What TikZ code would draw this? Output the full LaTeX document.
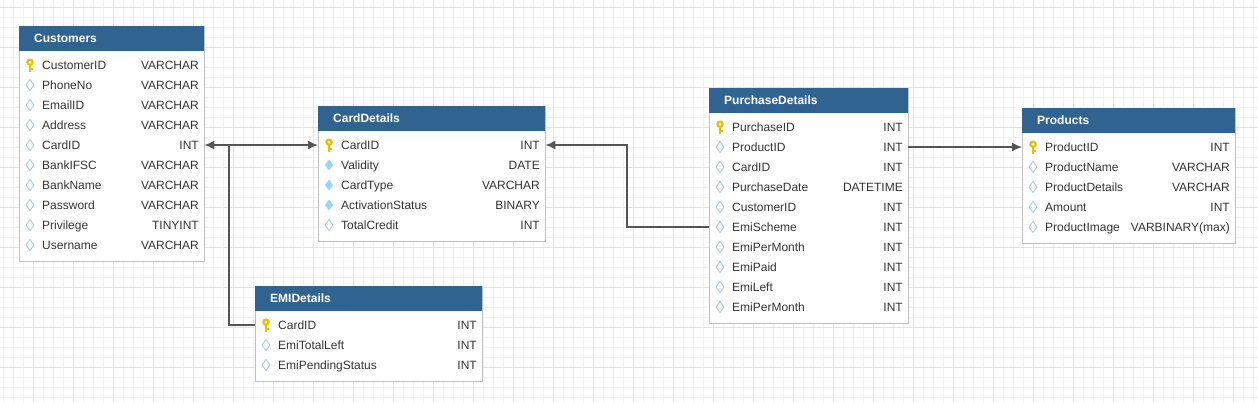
\documentclass[tikz,border=0pt]{standalone}
\usepackage{fontspec}
\setmainfont{Liberation Sans}
\usetikzlibrary{shadows,arrows.meta}
\tikzset{>={Latex[length=10pt,width=9pt]}}
\definecolor{headblue}{RGB}{49,99,145}
\definecolor{keygold}{RGB}{240,190,0}
\definecolor{diaedge}{RGB}{170,200,235}
\definecolor{diafill}{RGB}{150,215,245}
\definecolor{linkgray}{RGB}{85,85,85}
\definecolor{gridminor}{RGB}{242,242,242}
\definecolor{gridmajor}{RGB}{226,226,226}
\tikzset{
  tbox/.style={draw=black!25, fill=white, anchor=north west, inner sep=0,
    drop shadow={shadow xshift=1pt, shadow yshift=-1pt, opacity=.3}},
  thead/.style={fill=headblue, anchor=north west, minimum height=25pt,
    inner xsep=15pt, inner ysep=0, text=white, align=left,
    font=\fontsize{12}{14}\selectfont\bfseries},
  field/.style={anchor=west, inner sep=0, text=black!80, text height=11.2pt,
    text depth=2.6pt, font=\fontsize{12}{14}\selectfont},
  ftype/.style={anchor=east, inner sep=0, text=black!80, text height=11.2pt,
    text depth=2.6pt, font=\fontsize{12}{14}\selectfont},
  link/.style={draw=linkgray, line width=1.6pt},
  pk/.pic={
    \draw[keygold, line width=2.2pt] (0,-2.8) circle (2.6);
    \draw[keygold, line width=2.4pt] (0,-0.5) -- (0,6.5) (0,4) -- (2.6,4);
  },
  col/.pic={\draw[diaedge, line width=.8pt] (0,-5.5) -- (4,0) -- (0,5.5) -- (-4,0) -- cycle;},
  idx/.pic={\fill[diafill] (0,-5.5) -- (4,0) -- (0,5.5) -- (-4,0) -- cycle;}
}

\begin{document}
\begin{tikzpicture}[x=1pt,y=-1pt]
  \useasboundingbox (0,0) rectangle (1258,402);
  % background grid
  \foreach \x in {3,13,...,1253} \draw[gridminor, line width=.8pt] (\x,0) -- (\x,402);
  \foreach \y in {7,17,...,397} \draw[gridminor, line width=.8pt] (0,\y) -- (1258,\y);
  \foreach \x in {33,73,...,1233} \draw[gridmajor, line width=.8pt] (\x,0) -- (\x,402);
  \foreach \y in {7,47,...,367} \draw[gridmajor, line width=.8pt] (0,\y) -- (1258,\y);

  % Customers
  \node[tbox, minimum width=185pt, minimum height=235pt] (cust) at (19,26) {};
  \node[thead, text width=155pt] (custh) at (19,26) {Customers};
  \foreach \i/\f/\t/\k in {0/CustomerID/VARCHAR/pk, 1/PhoneNo/VARCHAR/col,
      2/EmailID/VARCHAR/col, 3/Address/VARCHAR/col, 4/CardID/INT/col,
      5/BankIFSC/VARCHAR/col, 6/BankName/VARCHAR/col, 7/Password/VARCHAR/col,
      8/Privilege/TINYINT/col, 9/Username/VARCHAR/col} {
    \pic at (30,65+20*\i) {\k};
    \node[field] (cust-\i) at (42,65+20*\i) {\f};
    \node[ftype] (custt-\i) at (199,65+20*\i) {\t};
  }

  % CardDetails
  \node[tbox, minimum width=227pt, minimum height=135pt] (card) at (318,106) {};
  \node[thead, text width=197pt] (cardh) at (318,106) {CardDetails};
  \foreach \i/\f/\t/\k in {0/CardID/INT/pk, 1/Validity/DATE/idx,
      2/CardType/VARCHAR/idx, 3/ActivationStatus/BINARY/idx, 4/TotalCredit/INT/col} {
    \pic at (329,145+20*\i) {\k};
    \node[field] (card-\i) at (341,145+20*\i) {\f};
    \node[ftype] (cardt-\i) at (540,145+20*\i) {\t};
  }

  % EMIDetails
  \node[tbox, minimum width=227pt, minimum height=95pt] (emi) at (255,286) {};
  \node[thead, text width=197pt] (emih) at (255,286) {EMIDetails};
  \foreach \i/\f/\t/\k in {0/CardID/INT/pk, 1/EmiTotalLeft/INT/col,
      2/EmiPendingStatus/INT/col} {
    \pic at (266,325+20*\i) {\k};
    \node[field] (emi-\i) at (278,325+20*\i) {\f};
    \node[ftype] (emit-\i) at (477,325+20*\i) {\t};
  }

  % PurchaseDetails
  \node[tbox, minimum width=199pt, minimum height=235pt] (pur) at (709,88) {};
  \node[thead, text width=169pt] (purh) at (709,88) {PurchaseDetails};
  \foreach \i/\f/\t/\k in {0/PurchaseID/INT/pk, 1/ProductID/INT/col,
      2/CardID/INT/col, 3/PurchaseDate/DATETIME/col, 4/CustomerID/INT/col,
      5/EmiScheme/INT/col, 6/EmiPerMonth/INT/col, 7/EmiPaid/INT/col,
      8/EmiLeft/INT/col, 9/EmiPerMonth/INT/col} {
    \pic at (720,127+20*\i) {\k};
    \node[field] (pur-\i) at (732,127+20*\i) {\f};
    \node[ftype] (purt-\i) at (903,127+20*\i) {\t};
  }

  % Products
  \node[tbox, minimum width=213pt, minimum height=135pt] (prod) at (1022,108) {};
  \node[thead, text width=183pt] (prodh) at (1022,108) {Products};
  \foreach \i/\f/\t/\k in {0/ProductID/INT/pk, 1/ProductName/VARCHAR/col,
      2/ProductDetails/VARCHAR/col, 3/Amount/INT/col,
      4/ProductImage/VARBINARY(max)/col} {
    \pic at (1033,147+20*\i) {\k};
    \node[field] (prod-\i) at (1045,147+20*\i) {\f};
    \node[ftype] (prodt-\i) at (1230,147+20*\i) {\t};
  }

  % relations
  \coordinate (split) at (229,145);
  \coordinate (turn) at (627,145);
  \draw[link, <->] (cust.east |- cust-4) -- (card.west |- card-0);
  \draw[link] (split) |- (emi.west |- emi-0);
  \draw[link, ->] (pur.west |- pur-5) -| (turn) -- (card.east |- card-0);
  \draw[link, ->] (pur.east |- pur-1) -- (prod.west |- prod-0);
\end{tikzpicture}
\end{document}
